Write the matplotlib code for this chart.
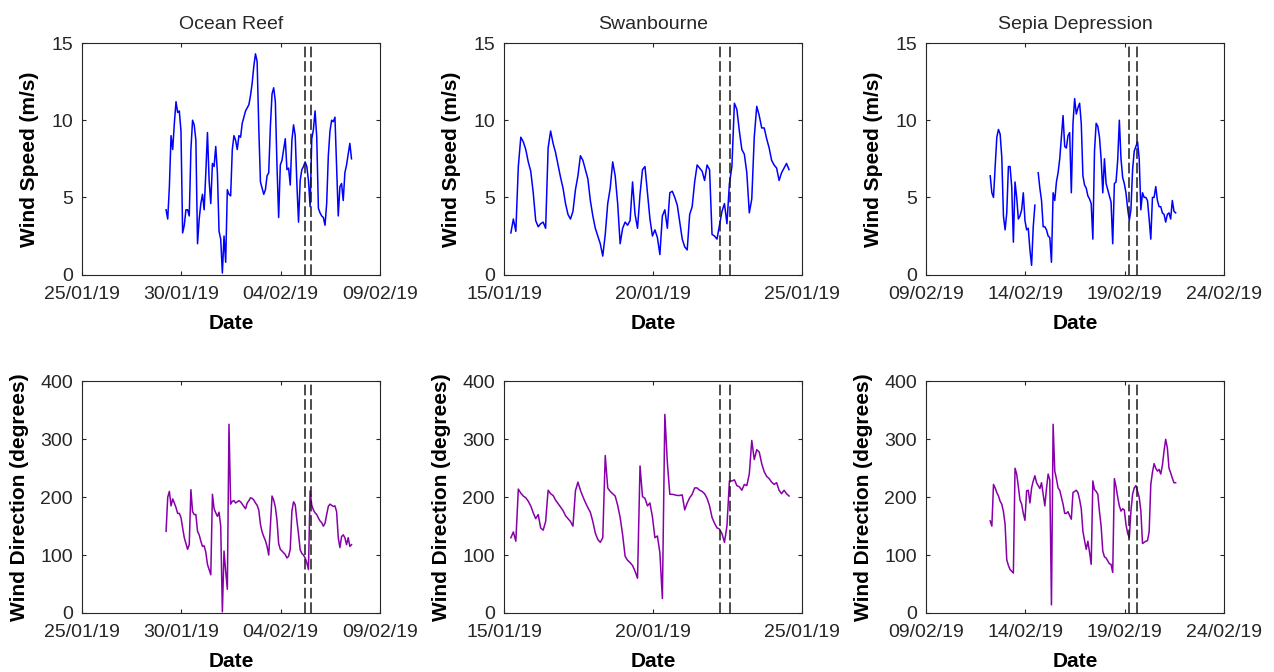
import numpy as np
import pandas as pd
import matplotlib
matplotlib.use('Agg')
import matplotlib.pyplot as plt
import matplotlib.dates as mdates

plt.rcParams['font.family'] = ['Liberation Sans', 'DejaVu Sans']

sites = ['Ocean Reef', 'Swanbourne', 'Sepia Depression']

# records start times, 2-hourly samples
starts = ['2019-01-29 05:30', '2019-01-15 05:30', '2019-02-12 05:30']

or_speed = [4.2, 3.6, 5.7, 9.0, 8.1, 9.8, 11.2, 10.5, 10.6, 9.3,
            2.7, 3.2, 4.2, 4.2, 3.8, 8.1, 10.0, 9.7, 8.7, 2.0,
            3.6, 4.6, 5.2, 4.2, 6.6, 9.2, 6.1, 4.6, 7.2, 7.0,
            8.3, 6.6, 2.8, 2.3, 0.1, 2.5, 0.8, 5.5, 5.2, 5.1,
            8.1, 9.0, 8.7, 8.1, 9.0, 8.9, 9.8, 10.2, 10.6, 10.8,
            11.0, 11.6, 12.4, 13.5, 14.3, 13.8, 9.5, 6.0, 5.6, 5.2,
            5.5, 6.4, 6.6, 9.6, 11.7, 12.1, 11.2, 7.0, 3.7, 7.1,
            7.4, 8.1, 8.8, 6.8, 6.9, 5.8, 8.7, 9.7, 9.0, 5.9,
            3.4, 6.1, 6.8, 7.0, 7.3, 7.0, 6.1, 4.4, 8.8, 9.4,
            10.6, 8.9, 4.3, 4.0, 3.8, 3.7, 3.2, 4.6, 7.7, 9.3,
            10.0, 9.9, 10.2, 7.0, 3.8, 5.7, 5.9, 4.8, 6.6, 7.1,
            7.8, 8.5, 7.5]
or_dir = [141, 200, 210, 185, 197, 190, 182, 172, 172, 165,
          147, 130, 120, 110, 118, 213, 175, 170, 170, 141,
          135, 124, 115, 116, 105, 84, 75, 66, 205, 180,
          173, 167, 174, 150, 2, 107, 72, 41, 326, 188,
          193, 194, 190, 192, 194, 192, 188, 184, 180, 190,
          194, 199, 198, 195, 190, 186, 178, 153, 140, 132,
          125, 115, 100, 150, 202, 195, 183, 160, 120, 110,
          107, 104, 101, 95, 98, 110, 176, 192, 187, 160,
          136, 109, 103, 100, 95, 87, 75, 211, 186, 178,
          173, 170, 164, 159, 156, 150, 155, 170, 184, 188,
          186, 184, 185, 175, 130, 113, 132, 135, 130, 118,
          130, 115, 118]

sw_speed = [2.7, 3.6, 2.8, 7.0, 8.9, 8.6, 8.1, 7.3, 6.7, 5.3,
            3.5, 3.1, 3.3, 3.4, 3.0, 8.2, 9.3, 8.5, 7.9, 7.1,
            6.3, 5.6, 4.6, 3.9, 3.6, 4.1, 5.5, 6.4, 7.7, 7.4,
            6.8, 6.2, 4.8, 3.8, 3.0, 2.5, 2.0, 1.2, 2.6, 4.6,
            5.6, 7.3, 6.4, 4.6, 2.0, 3.0, 3.4, 3.2, 3.5, 6.0,
            3.9, 3.0, 5.2, 6.8, 7.0, 5.3, 3.6, 2.5, 2.9, 2.4,
            1.3, 3.8, 4.2, 3.0, 5.3, 5.4, 5.0, 4.5, 3.4, 2.3,
            1.8, 1.6, 3.9, 4.4, 6.0, 7.1, 6.9, 6.7, 6.1, 7.1,
            6.8, 2.6, 2.5, 2.3, 3.2, 4.1, 4.6, 3.3, 5.9, 7.0,
            11.1, 10.7, 9.3, 8.1, 7.8, 6.6, 4.0, 4.9, 8.9, 10.9,
            10.3, 9.5, 9.5, 8.8, 8.2, 7.4, 7.1, 6.9, 6.1, 6.6,
            6.9, 7.2, 6.8]
sw_dir = [130, 140, 124, 214, 207, 202, 199, 193, 185, 173,
          163, 170, 147, 143, 158, 212, 206, 203, 195, 189,
          183, 177, 168, 163, 158, 150, 211, 226, 212, 201,
          191, 182, 174, 158, 138, 127, 122, 130, 272, 216,
          210, 206, 202, 186, 165, 135, 98, 91, 87, 82,
          72, 60, 254, 201, 198, 185, 190, 166, 130, 133,
          104, 25, 343, 260, 205, 205, 204, 203, 203, 204,
          178, 190, 199, 205, 216, 216, 212, 210, 206, 198,
          185, 165, 155, 147, 145, 137, 122, 150, 228, 228,
          230, 220, 218, 212, 222, 220, 240, 298, 265, 282,
          278, 258, 244, 236, 232, 226, 222, 225, 212, 206,
          212, 206, 202]

sp_speed = [6.4, 5.3, 5.0, 7.0, 8.9, 9.4, 9.1, 7.6, 3.8, 2.9,
            4.0, 7.0, 7.0, 5.7, 2.1, 6.0, 5.0, 3.6, 3.8, 4.2,
            5.3, 3.5, 2.9, 3.0, 1.6, 0.6, 3.1, 4.5, np.nan, 6.6,
            5.6, 4.8, 3.1, 3.1, 2.9, 2.5, 2.4, 0.8, 5.3, 4.8,
            6.0, 6.6, 7.5, 8.9, 10.3, 8.3, 8.2, 9.0, 9.2, 5.3,
            9.8, 11.4, 10.4, 10.8, 11.1, 9.8, 6.4, 5.8, 5.6, 5.1,
            4.9, 4.6, 2.3, 8.0, 9.8, 9.6, 8.9, 7.5, 5.3, 7.5,
            5.9, 5.5, 5.1, 4.7, 2.0, 5.9, 6.0, 7.4, 10.0, 7.5,
            6.3, 5.9, 5.3, 4.3, 3.5, 4.2, 6.8, 8.0, 8.3, 8.6,
            7.5, 4.2, 5.3, 5.0, 5.0, 4.8, 3.6, 2.3, 5.0, 5.0,
            5.7, 4.8, 4.4, 4.4, 4.0, 3.9, 3.4, 3.9, 4.0, 3.6,
            4.8, 4.1, 4.0]
sp_dir = [159, 150, 222, 216, 208, 202, 193, 188, 175, 153,
          92, 82, 75, 72, 69, 250, 240, 218, 195, 188,
          172, 160, 211, 212, 190, 216, 228, 237, 225, 220,
          215, 225, 205, 185, 215, 240, 230, 14, 326, 245,
          232, 216, 212, 200, 188, 172, 172, 175, 168, 162,
          208, 210, 212, 208, 196, 180, 141, 125, 110, 124,
          105, 84, 228, 213, 210, 205, 175, 150, 107, 97,
          95, 90, 85, 84, 70, 232, 218, 200, 185, 176,
          180, 178, 153, 138, 130, 176, 205, 216, 220, 210,
          200, 176, 120, 122, 124, 125, 140, 222, 243, 258,
          250, 245, 248, 240, 255, 280, 300, 285, 250, 242,
          233, 225, 225]

speeds = [or_speed, sw_speed, sp_speed]
dirs = [or_dir, sw_dir, sp_dir]

tick_dates = [['2019-01-25', '2019-01-30', '2019-02-04', '2019-02-09'],
              ['2019-01-15', '2019-01-20', '2019-01-25'],
              ['2019-02-09', '2019-02-14', '2019-02-19', '2019-02-24']]

event_lines = [['2019-02-05 05:00', '2019-02-05 12:30'],
               ['2019-01-22 05:45', '2019-01-22 13:45'],
               ['2019-02-19 05:15', '2019-02-19 14:15']]

speed_color = '#0000ff'
dir_color = '#8800aa'

fig, axes = plt.subplots(2, 3, figsize=(12.74, 6.72), dpi=100)
plt.subplots_adjust(left=0.0644, right=0.9608, top=0.936, bottom=0.0878,
                    wspace=0.416, hspace=0.461)


def style_axis(ax, ticks):
    ticks = pd.to_datetime(ticks)
    ax.set_xticks(ticks)
    ax.set_xlim(ticks[0], ticks[-1])
    ax.xaxis.set_major_formatter(mdates.DateFormatter('%d/%m/%y'))
    ax.tick_params(direction='in', top=True, right=True, length=3, width=0.8,
                   labelsize=14, labelcolor='#262626', color='#262626')
    ax.tick_params(axis='x', pad=8)
    ax.tick_params(axis='y', pad=6.5)
    for sp in ax.spines.values():
        sp.set_color('#262626')
        sp.set_linewidth(0.8)
    ax.set_xlabel('Date', fontsize=15, fontweight='bold', labelpad=8)


for c in range(3):
    t = pd.date_range(starts[c], periods=len(speeds[c]), freq='2h')

    ax = axes[0, c]
    ax.plot(t, speeds[c], color=speed_color, lw=1.1)
    ax.set_ylim(0, 15)
    ax.set_yticks([0, 5, 10, 15])
    style_axis(ax, tick_dates[c])
    ax.set_ylabel('Wind Speed (m/s)', fontsize=15, fontweight='bold', labelpad=9)
    ax.set_title(sites[c], fontsize=14, color='#262626', pad=10)

    ax2 = axes[1, c]
    ax2.plot(t, dirs[c], color=dir_color, lw=1.1)
    ax2.set_ylim(0, 400)
    ax2.set_yticks([0, 100, 200, 300, 400])
    style_axis(ax2, tick_dates[c])
    ax2.set_ylabel('Wind Direction (degrees)', fontsize=15, fontweight='bold', labelpad=8)

    for d in event_lines[c]:
        for a in (ax, ax2):
            a.axvline(pd.Timestamp(d), color='#1a1a1a', lw=1.1, linestyle=(0, (7, 2.5)))

fig.savefig('out.png', dpi=100)
